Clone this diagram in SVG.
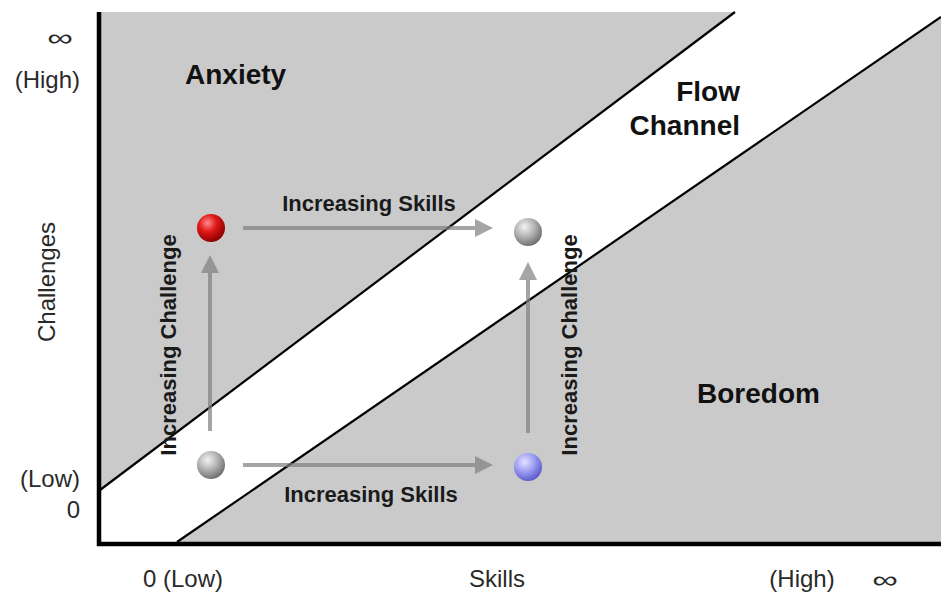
<svg xmlns="http://www.w3.org/2000/svg" width="941" height="593" viewBox="0 0 941 593">
  <style>
    .zone { fill: #cacaca; }
    .edge { stroke: #000; stroke-width: 2.2; fill: none; }
    .axis { stroke: #000; stroke-width: 4.5; fill: none; }
    .arrow { stroke: #808080; stroke-width: 4; fill: none; }
    .lab { font-family: "Liberation Sans", Arial, sans-serif; font-size: 24px; fill: #2a2a2a; }
    .inf { font-family: "Liberation Sans", Arial, sans-serif; font-size: 24px; fill: #2a2a2a; }
    .zonelab { font-family: "Liberation Sans", Arial, sans-serif; font-size: 28px; font-weight: bold; fill: #111; }
    .arrlab { font-family: "Liberation Sans", Arial, sans-serif; font-size: 22px; font-weight: bold; fill: #1a1a1a; }
  </style>
  <defs>
    <marker id="head" markerUnits="userSpaceOnUse" markerWidth="18" markerHeight="18" refX="0" refY="9" orient="auto">
      <path d="M0,0 L18,9 L0,18 z" fill="#808080"/>
    </marker>
    <radialGradient id="gRed" cx="0.38" cy="0.32" r="0.7">
      <stop offset="0" stop-color="#ff8a8a"/>
      <stop offset="0.45" stop-color="#e01818"/>
      <stop offset="1" stop-color="#8a0000"/>
    </radialGradient>
    <radialGradient id="gGray" cx="0.38" cy="0.32" r="0.7">
      <stop offset="0" stop-color="#f2f2f2"/>
      <stop offset="0.5" stop-color="#b4b4b4"/>
      <stop offset="1" stop-color="#6e6e6e"/>
    </radialGradient>
    <radialGradient id="gBlue" cx="0.38" cy="0.32" r="0.7">
      <stop offset="0" stop-color="#e4e4ff"/>
      <stop offset="0.5" stop-color="#9e9ef4"/>
      <stop offset="1" stop-color="#5a5ac8"/>
    </radialGradient>
  </defs>

  <rect width="941" height="593" fill="#ffffff"/>

  <g id="zones">
    <polygon class="zone" points="100,12 735,12 100,490"/>
    <polygon class="zone" points="177,542 941,17 941,542"/>
    <line class="edge" x1="100" y1="490" x2="735" y2="12"/>
    <line class="edge" x1="177" y1="542" x2="941" y2="17"/>
  </g>

  <g id="axes">
    <line class="axis" x1="99" y1="12" x2="99" y2="546"/>
    <line class="axis" x1="97" y1="544" x2="941" y2="544"/>
  </g>

  <g id="connectors" opacity="0.7">
    <line class="arrow" x1="243" y1="228" x2="475" y2="228" marker-end="url(#head)"/>
    <line class="arrow" x1="243" y1="465" x2="475" y2="465" marker-end="url(#head)"/>
    <line class="arrow" x1="210" y1="431" x2="210" y2="273" marker-end="url(#head)"/>
    <line class="arrow" x1="528" y1="433" x2="528" y2="280" marker-end="url(#head)"/>
  </g>

  <g id="node-anxious">
    <circle cx="211" cy="228" r="14" fill="url(#gRed)"/>
  </g>
  <g id="node-flow-high">
    <circle cx="528" cy="232" r="14" fill="url(#gGray)"/>
  </g>
  <g id="node-start">
    <circle cx="211" cy="465" r="14" fill="url(#gGray)"/>
  </g>
  <g id="node-bored">
    <circle cx="528" cy="467" r="14" fill="url(#gBlue)"/>
  </g>

  <g id="zone-labels">
    <text class="zonelab" x="185" y="84">Anxiety</text>
    <text class="zonelab" x="740" y="101" text-anchor="end">Flow</text>
    <text class="zonelab" x="740" y="135" text-anchor="end">Channel</text>
    <text class="zonelab" x="697" y="403">Boredom</text>
  </g>

  <g id="arrow-labels">
    <text class="arrlab" x="369" y="211" text-anchor="middle">Increasing Skills</text>
    <text class="arrlab" x="371" y="502" text-anchor="middle">Increasing Skills</text>
    <text class="arrlab" text-anchor="middle" transform="translate(176,345) rotate(-90)">Increasing Challenge</text>
    <text class="arrlab" text-anchor="middle" transform="translate(577,345) rotate(-90)">Increasing Challenge</text>
  </g>

  <g id="axis-labels">
    <text class="inf" text-anchor="middle" transform="translate(60,46) scale(1.5,1)">∞</text>
    <text class="lab" x="80" y="88" text-anchor="end">(High)</text>
    <text class="lab" x="80" y="487" text-anchor="end">(Low)</text>
    <text class="lab" x="80" y="518" text-anchor="end">0</text>
    <text class="lab" text-anchor="middle" transform="translate(55,282) rotate(-90)">Challenges</text>
    <text class="lab" x="143" y="587">0 (Low)</text>
    <text class="lab" x="497" y="587" text-anchor="middle">Skills</text>
    <text class="lab" x="802" y="587" text-anchor="middle">(High)</text>
    <text class="inf" text-anchor="middle" transform="translate(885,588) scale(1.5,1)">∞</text>
  </g>
</svg>
